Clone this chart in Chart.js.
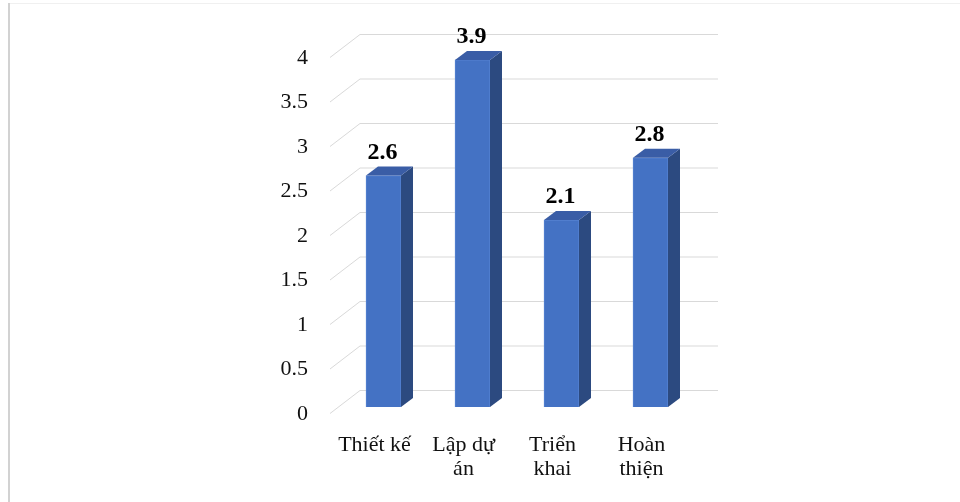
<!DOCTYPE html>
<html>
<head>
<meta charset="utf-8">
<script src="https://cdn.jsdelivr.net/npm/chart.js@4/dist/chart.umd.min.js"></script>
<style>
  html, body { margin: 0; padding: 0; background: #ffffff; }
  #wrap { width: 960px; height: 502px; position: relative; }
</style>
</head>
<body>
<div id="wrap"><canvas id="chart" width="960" height="502"></canvas></div>
<script>
// Category labels (multi-line) and values
const categories = [["Thiết kế"], ["Lập dự", "án"], ["Triển", "khai"], ["Hoàn", "thiện"]];
const values = [2.6, 3.9, 2.1, 2.8];
const yTicks = [0, 0.5, 1, 1.5, 2, 2.5, 3, 3.5, 4];

const FONT = "'Liberation Serif', 'Times New Roman', serif";
const DEPTH_X = 12, DEPTH_Y = 9;           // bar extrusion
const WALL_X0 = 330, WALL_X1 = 360, WALL_X2 = 718; // side wall / back wall extents
const BACK_DY = -16.5, FRONT_DY = 6.5;      // wall offsets relative to bar plane

// Frame lines around the figure
const framePlugin = {
  id: 'frame',
  beforeDraw(chart) {
    const ctx = chart.ctx;
    ctx.save();
    ctx.fillStyle = '#ffffff';
    ctx.fillRect(0, 0, chart.width, chart.height);
    ctx.strokeStyle = '#f0f0f0';
    ctx.lineWidth = 1;
    ctx.beginPath(); ctx.moveTo(10, 3.5); ctx.lineTo(chart.width, 3.5); ctx.stroke();
    ctx.strokeStyle = '#d2d2d2';
    ctx.lineWidth = 2;
    ctx.beginPath(); ctx.moveTo(9, 3); ctx.lineTo(9, chart.height); ctx.stroke();
    ctx.restore();
  }
};

// Perspective gridlines: side wall diagonals plus back wall horizontals
const wallGridPlugin = {
  id: 'wallGrid',
  beforeDatasetsDraw(chart) {
    const ctx = chart.ctx, y = chart.scales.y;
    ctx.save();
    ctx.strokeStyle = '#d9d9d9';
    ctx.lineWidth = 1;
    yTicks.forEach(v => {
      const p = y.getPixelForValue(v);
      ctx.beginPath();
      ctx.moveTo(WALL_X0, p + FRONT_DY);
      ctx.lineTo(WALL_X1, p + BACK_DY);
      ctx.lineTo(WALL_X2, p + BACK_DY);
      ctx.stroke();
    });
    ctx.restore();
  }
};

// Side and top faces of each bar, then the value labels
const bar3dPlugin = {
  id: 'bar3d',
  afterDatasetsDraw(chart) {
    const ctx = chart.ctx;
    const meta = chart.getDatasetMeta(0);
    ctx.save();
    meta.data.forEach((bar, i) => {
      const { x, y, base, width } = bar.getProps(['x', 'y', 'base', 'width'], true);
      const l = x - width / 2, r = x + width / 2;
      // right side face
      ctx.fillStyle = '#2c4a80';
      ctx.beginPath();
      ctx.moveTo(r, y);
      ctx.lineTo(r + DEPTH_X, y - DEPTH_Y);
      ctx.lineTo(r + DEPTH_X, base - DEPTH_Y);
      ctx.lineTo(r, base);
      ctx.closePath();
      ctx.fill();
      // top face
      ctx.fillStyle = '#3a5da6';
      ctx.beginPath();
      ctx.moveTo(l, y);
      ctx.lineTo(l + DEPTH_X, y - DEPTH_Y);
      ctx.lineTo(r + DEPTH_X, y - DEPTH_Y);
      ctx.lineTo(r, y);
      ctx.closePath();
      ctx.fill();
      // value label
      ctx.fillStyle = '#000000';
      ctx.font = "bold 24px " + FONT;
      ctx.textAlign = 'center';
      ctx.textBaseline = 'alphabetic';
      ctx.fillText(String(values[i]), x - 1, y - 17);
    });
    ctx.restore();
  }
};

new Chart(document.getElementById('chart'), {
  type: 'bar',
  data: {
    labels: categories,
    datasets: [{
      data: values,
      backgroundColor: '#4472c4',
      borderColor: '#5683d2',
      borderWidth: 1,
      barThickness: 35
    }]
  },
  options: {
    responsive: false,
    animation: false,
    devicePixelRatio: 1,
    layout: { padding: { top: 51, right: 265, bottom: 0, left: 0 } },
    plugins: { legend: { display: false }, tooltip: { enabled: false } },
    scales: {
      x: {
        grid: { display: false, drawTicks: false },
        border: { display: false },
        ticks: {
          color: '#111111',
          font: { family: FONT, size: 22, lineHeight: 1.1 },
          padding: 26,
          labelOffset: -9,
          maxRotation: 0,
          autoSkip: false
        },
        afterFit(scale) { scale.height = 95; }
      },
      y: {
        min: 0,
        max: 4,
        grid: { display: false, drawTicks: false },
        border: { display: false },
        ticks: {
          stepSize: 0.5,
          color: '#111111',
          font: { family: FONT, size: 22 },
          padding: 31,
          labelOffset: 7,
          callback: (v) => String(v)
        },
        afterFit(scale) { scale.width = 339; }
      }
    }
  },
  plugins: [framePlugin, wallGridPlugin, bar3dPlugin]
});
</script>
</body>
</html>
